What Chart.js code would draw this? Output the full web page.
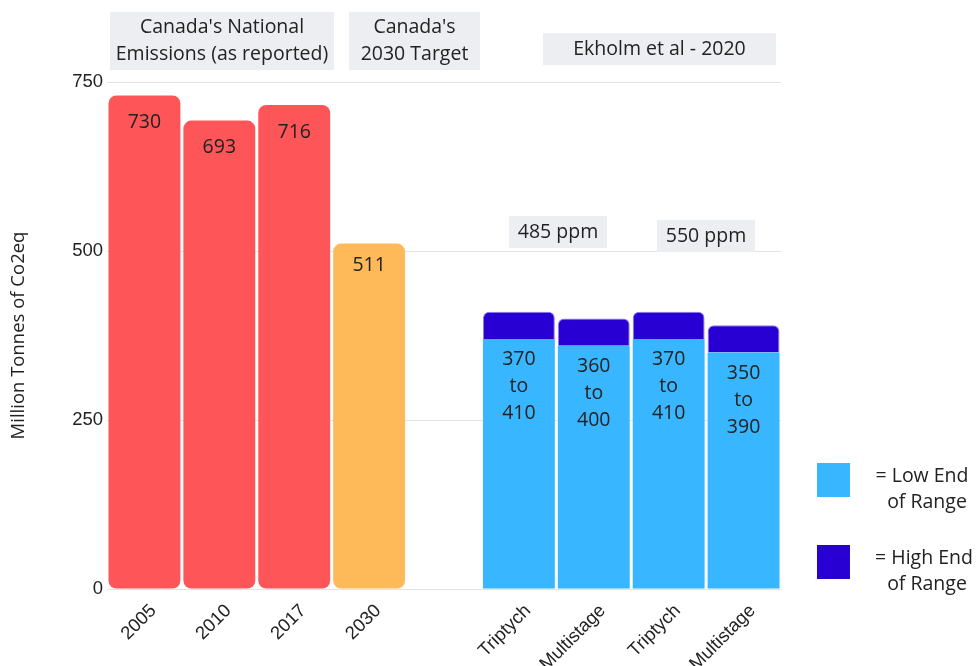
<!DOCTYPE html>
<html>
<head>
<meta charset="utf-8">
<script src="https://cdn.jsdelivr.net/npm/chart.js@4/dist/chart.umd.min.js"></script>
<style>
  html, body { margin: 0; padding: 0; background: #fff; }
  #wrap { width: 976px; height: 666px; position: relative; }
</style>
</head>
<body>
<div id="wrap"><canvas id="c" width="976" height="666"></canvas></div>
<script>
// Categories along the x axis (blank slot separates the groups)
const categories = ['2005', '2010', '2017', '2030', '', 'Triptych', 'Multistage', 'Triptych', 'Multistage'];

// Canada's reported national emissions (Mt CO2eq)
const reported = [730, 693, 716, null, null, null, null, null, null];
// Canada's 2030 target
const target = [null, null, null, 511, null, null, null, null, null];
// Ekholm et al - 2020 ranges: low and high ends
const rangeLow = [null, null, null, null, null, 370, 360, 370, 350];
const rangeHigh = [null, null, null, null, null, 410, 400, 410, 390];

const yTicks = [0, 250, 500, 750];

const RED = '#fe5558';
const ORANGE = '#feba58';
const LIGHT = '#38b6ff';
const DARK = '#2900d3';
const TEXT = '#222222';
const LABEL_FONT = '19.5px "Open Sans"';

const highBars = rangeLow.map((lo, i) => (lo == null ? null : [lo, rangeHigh[i]]));

const labelPlugin = {
  id: 'barLabels',
  afterDatasetsDraw(chart) {
    const ctx = chart.ctx;
    ctx.save();
    ctx.fillStyle = TEXT;
    ctx.font = LABEL_FONT;
    ctx.textAlign = 'center';
    ctx.textBaseline = 'middle';
    // reported + target values
    [[0, reported, 27], [1, target, 22]].forEach(([di, arr, off]) => {
      const meta = chart.getDatasetMeta(di);
      arr.forEach((v, i) => {
        if (v == null) return;
        const el = meta.data[i];
        ctx.fillText(String(v), el.x, el.y + off);
      });
    });
    // ranges
    const metaLow = chart.getDatasetMeta(2);
    rangeLow.forEach((v, i) => {
      if (v == null) return;
      const el = metaLow.data[i];
      const lines = [String(v), 'to', String(rangeHigh[i])];
      lines.forEach((t, k) => ctx.fillText(t, el.x, el.y + 21 + k * 27));
    });
    ctx.restore();
  }
};

const annotationPlugin = {
  id: 'boxes',
  afterDraw(chart) {
    const ctx = chart.ctx;
    ctx.save();
    const boxes = [
      { x: 110, y: 12, w: 224, h: 58, lines: ["Canada's National", 'Emissions (as reported)'] },
      { x: 349, y: 12, w: 131, h: 58, lines: ["Canada's", '2030 Target'] },
      { x: 543, y: 33, w: 233, h: 32, lines: ['Ekholm et al - 2020'] },
      { x: 509, y: 216, w: 98, h: 32, lines: ['485 ppm'] },
      { x: 657, y: 220, w: 98, h: 32, lines: ['550 ppm'] }
    ];
    ctx.font = LABEL_FONT;
    ctx.textAlign = 'center';
    ctx.textBaseline = 'middle';
    boxes.forEach(b => {
      ctx.fillStyle = '#eceef2';
      ctx.fillRect(b.x, b.y, b.w, b.h);
      ctx.fillStyle = TEXT;
      const n = b.lines.length;
      b.lines.forEach((t, k) => {
        ctx.fillText(t, b.x + b.w / 2, b.y + b.h / 2 + (k - (n - 1) / 2) * 27);
      });
    });

    // colour key
    ctx.fillStyle = LIGHT;
    ctx.fillRect(817, 463, 33, 34);
    ctx.fillStyle = DARK;
    ctx.fillRect(817, 545, 33, 34);
    ctx.fillStyle = TEXT;
    ctx.fillText('= Low End', 922, 476);
    ctx.fillText('of Range', 927, 502);
    ctx.fillText('= High End', 924, 558);
    ctx.fillText('of Range', 927, 584);
    ctx.restore();
  }
};

new Chart(document.getElementById('c'), {
  type: 'bar',
  data: {
    labels: categories,
    datasets: [
      {
        label: 'Reported', data: reported, backgroundColor: RED,
        borderRadius: 8, borderSkipped: false
      },
      {
        label: 'Target', data: target, backgroundColor: ORANGE,
        borderRadius: 8, borderSkipped: false
      },
      {
        label: 'Low End of Range', data: rangeLow, backgroundColor: LIGHT,
        borderRadius: 0
      },
      {
        label: 'High End of Range', data: highBars, backgroundColor: DARK,
        borderColor: '#8f7cf0', borderWidth: 1,
        borderRadius: { topLeft: 6, topRight: 6, bottomLeft: 0, bottomRight: 0 },
        borderSkipped: 'bottom'
      }
    ]
  },
  options: {
    responsive: false,
    animation: false,
    devicePixelRatio: 1,
    layout: { padding: { top: 82, right: 195, bottom: 0, left: 0 } },
    datasets: { bar: { barPercentage: 0.96, categoryPercentage: 1 } },
    plugins: {
      legend: { display: false },
      tooltip: { enabled: false }
    },
    scales: {
      x: {
        stacked: true,
        grid: { display: false },
        border: { display: false },
        ticks: {
          autoSkip: false,
          maxRotation: 45, minRotation: 45,
          color: TEXT,
          font: { family: '"Liberation Sans", Arial', size: 18.5 },
          padding: 3,
          labelOffset: 9
        },
        afterFit(s) { s.height = 77; }
      },
      y: {
        stacked: false,
        min: 0, max: 750,
        afterBuildTicks(s) { s.ticks = yTicks.map(v => ({ value: v })); },
        grid: { color: '#e3e3e3', lineWidth: 1, drawTicks: false },
        border: { display: false },
        ticks: {
          color: TEXT,
          font: { family: '"Liberation Sans", Arial', size: 18.5 },
          padding: 4
        },
        title: {
          display: true,
          text: 'Million Tonnes of Co2eq',
          color: TEXT,
          font: { family: '"Open Sans"', size: 18.5 },
          padding: { top: 8, bottom: 0 }
        },
        afterFit(s) { s.width = 107; }
      }
    }
  },
  plugins: [labelPlugin, annotationPlugin]
});
</script>
</body>
</html>
